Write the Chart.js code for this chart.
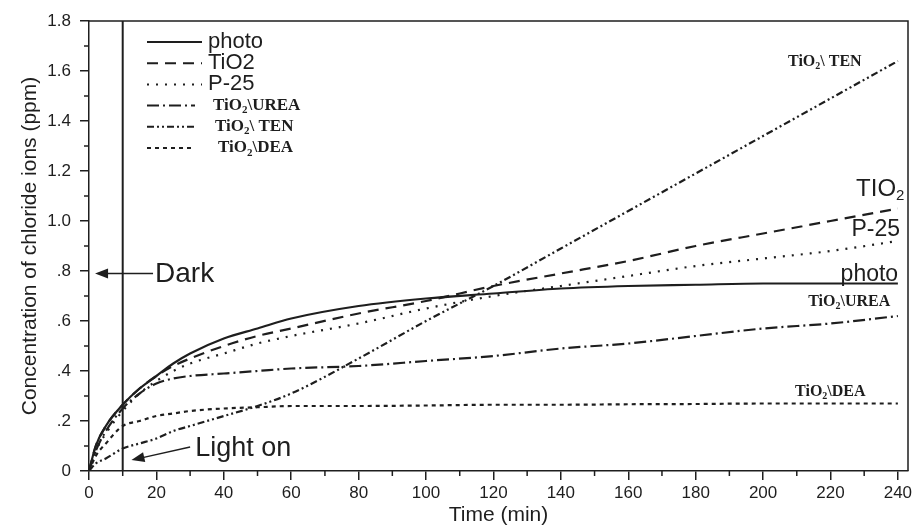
<!DOCTYPE html>
<html>
<head>
<meta charset="utf-8">
<script src="https://cdn.jsdelivr.net/npm/chart.js@4.4.1/dist/chart.umd.min.js"></script>
<style>
  html, body { margin: 0; padding: 0; background: #fff; }
</style>
</head>
<body>
<canvas id="chloride" width="918" height="529"></canvas>
<script>
// sampling times (min) and readings (ppm)
const timeMin  = [0, 2, 5, 10, 15, 20, 25, 30, 40, 50, 60, 80, 100, 120, 140, 160, 180, 200, 220, 240];
const photoPpm = [0, 0.10, 0.18, 0.265, 0.33, 0.38, 0.43, 0.47, 0.53, 0.57, 0.61, 0.66, 0.69, 0.71, 0.73, 0.74, 0.745, 0.75, 0.75, 0.75];
const tio2Ppm  = [0, 0.10, 0.18, 0.265, 0.33, 0.38, 0.42, 0.45, 0.50, 0.54, 0.57, 0.63, 0.68, 0.74, 0.79, 0.84, 0.90, 0.95, 1.00, 1.05];
const p25Ppm   = [0, 0.08, 0.15, 0.24, 0.31, 0.36, 0.40, 0.43, 0.47, 0.51, 0.54, 0.59, 0.65, 0.70, 0.74, 0.78, 0.82, 0.85, 0.88, 0.92];
const ureaPpm  = [0, 0.08, 0.16, 0.25, 0.31, 0.35, 0.37, 0.38, 0.39, 0.40, 0.41, 0.42, 0.44, 0.46, 0.49, 0.51, 0.54, 0.57, 0.59, 0.62];
const tenPpm   = [0, 0.03, 0.05, 0.09, 0.11, 0.13, 0.16, 0.18, 0.22, 0.26, 0.31, 0.45, 0.60, 0.74, 0.89, 1.04, 1.19, 1.34, 1.49, 1.64];
const deaPpm   = [0, 0.06, 0.11, 0.18, 0.20, 0.22, 0.23, 0.24, 0.25, 0.255, 0.26, 0.26, 0.262, 0.265, 0.265, 0.267, 0.268, 0.27, 0.27, 0.27];

const xTickValues = [0, 20, 40, 60, 80, 100, 120, 140, 160, 180, 200, 220, 240];
const xMinorTicks = [10, 30, 50, 70, 90, 110, 130, 150, 170, 190, 210, 230];
const yTickValues = [0, 0.2, 0.4, 0.6, 0.8, 1.0, 1.2, 1.4, 1.6, 1.8];
const yMinorTicks = [0.1, 0.3, 0.5, 0.7, 0.9, 1.1, 1.3, 1.5, 1.7];

const INK = '#1e1e1e';
const SANS = "'Liberation Sans', Arial, sans-serif";
const SERIF = "'Liberation Serif', 'Times New Roman', serif";

const series = [
    { label: 'photo',     values: photoPpm, dash: [] },
    { label: 'TiO2',      values: tio2Ppm,  dash: [11, 7] },
    { label: 'P-25',      values: p25Ppm,   dash: [2, 7] },
    { label: 'TiO2\\UREA', values: ureaPpm, dash: [12, 4, 2, 4] },
    { label: 'TiO2\\ TEN', values: tenPpm,  dash: [7, 3, 2, 3, 2, 3] },
    { label: 'TiO2\\DEA',  values: deaPpm,  dash: [4, 4] }
];

/**
 * Draws text where some pieces are subscripts, e.g. TiO2.
 * parts: array of [text, isSub]
 */
function drawParts(ctx, parts, x, y, size, family, weight) {
    ctx.textBaseline = 'middle';
    ctx.textAlign = 'left';
    let cx = x;
    parts.forEach(([txt, sub]) => {
        const s = sub ? Math.round(size * 0.62) : size;
        ctx.font = `${weight || 'normal'} ${s}px ${family}`;
        ctx.fillText(txt, cx, sub ? y + size * 0.28 : y);
        cx += ctx.measureText(txt).width;
    });
}

function arrow(ctx, x1, y1, x2, y2) {
    // line from (x1,y1) to tip at (x2,y2)
    const ang = Math.atan2(y2 - y1, x2 - x1);
    ctx.beginPath();
    ctx.moveTo(x1, y1);
    ctx.lineTo(x2 - 8 * Math.cos(ang), y2 - 8 * Math.sin(ang));
    ctx.stroke();
    ctx.beginPath();
    ctx.moveTo(x2, y2);
    ctx.lineTo(x2 - 13 * Math.cos(ang) + 5 * Math.sin(ang), y2 - 13 * Math.sin(ang) - 5 * Math.cos(ang));
    ctx.lineTo(x2 - 13 * Math.cos(ang) - 5 * Math.sin(ang), y2 - 13 * Math.sin(ang) + 5 * Math.cos(ang));
    ctx.closePath();
    ctx.fill();
}

const overlay = {
    id: 'overlay',
    afterDraw(chart) {
        const { ctx, chartArea: a, scales: { x, y } } = chart;
        ctx.save();
        ctx.strokeStyle = INK;
        ctx.fillStyle = INK;

        // top and right frame
        ctx.lineWidth = 1.5;
        ctx.beginPath();
        ctx.moveTo(a.left, a.top);
        ctx.lineTo(a.right, a.top);
        ctx.lineTo(a.right, a.bottom);
        ctx.stroke();

        // minor ticks
        ctx.beginPath();
        xMinorTicks.forEach(t => {
            const px = x.getPixelForValue(t);
            ctx.moveTo(px, a.bottom);
            ctx.lineTo(px, a.bottom + 5);
        });
        yMinorTicks.forEach(v => {
            const py = y.getPixelForValue(v);
            ctx.moveTo(a.left, py);
            ctx.lineTo(a.left - 5, py);
        });
        ctx.stroke();

        // light switched on at t = 10
        ctx.lineWidth = 2;
        ctx.beginPath();
        ctx.moveTo(x.getPixelForValue(10), a.top);
        ctx.lineTo(x.getPixelForValue(10), a.bottom);
        ctx.stroke();

        // Dark / Light on annotations
        ctx.lineWidth = 1.3;
        arrow(ctx, x.getPixelForValue(19), y.getPixelForValue(0.79), x.getPixelForValue(1.8), y.getPixelForValue(0.79));
        drawParts(ctx, [['Dark', false]], x.getPixelForValue(19.6), y.getPixelForValue(0.788), 28, SANS);
        arrow(ctx, x.getPixelForValue(30), y.getPixelForValue(0.096), x.getPixelForValue(12.6), y.getPixelForValue(0.044));
        drawParts(ctx, [['Light on', false]], x.getPixelForValue(31.5), y.getPixelForValue(0.088), 27, SANS);

        // curve labels on the right
        drawParts(ctx, [['TiO', false], ['2', true], ['\\ TEN', false]], x.getPixelForValue(207.4), y.getPixelForValue(1.636), 16, SERIF, 'bold');
        drawParts(ctx, [['TIO', false], ['2', true]], x.getPixelForValue(227.6), y.getPixelForValue(1.128), 24, SANS);
        drawParts(ctx, [['P-25', false]], x.getPixelForValue(226.2), y.getPixelForValue(0.964), 23, SANS);
        drawParts(ctx, [['photo', false]], x.getPixelForValue(223.0), y.getPixelForValue(0.784), 23, SANS);
        drawParts(ctx, [['TiO', false], ['2', true], ['\\UREA', false]], x.getPixelForValue(213.4), y.getPixelForValue(0.676), 16, SERIF, 'bold');
        drawParts(ctx, [['TiO', false], ['2', true], ['\\DEA', false]], x.getPixelForValue(209.5), y.getPixelForValue(0.316), 16, SERIF, 'bold');

        // legend box (top-left, inside plot)
        const legendRows = [
            { parts: [['photo', false]], font: SANS, size: 22, weight: 'normal', len: 55, gap: 6 },
            { parts: [['TiO2', false]], font: SANS, size: 22, weight: 'normal', len: 55, gap: 6 },
            { parts: [['P-25', false]], font: SANS, size: 22, weight: 'normal', len: 55, gap: 6 },
            { parts: [['TiO', false], ['2', true], ['\\UREA', false]], font: SERIF, size: 17, weight: 'bold', len: 48, gap: 18 },
            { parts: [['TiO', false], ['2', true], ['\\ TEN', false]], font: SERIF, size: 17, weight: 'bold', len: 48, gap: 20 },
            { parts: [['TiO', false], ['2', true], ['\\DEA', false]], font: SERIF, size: 17, weight: 'bold', len: 48, gap: 23 }
        ];
        const lx = a.left + 58;
        legendRows.forEach((row, i) => {
            const ly = a.top + 21 + i * 21.2;
            ctx.lineWidth = 2;
            ctx.setLineDash(series[i].dash);
            ctx.beginPath();
            ctx.moveTo(lx, ly);
            ctx.lineTo(lx + row.len, ly);
            ctx.stroke();
            ctx.setLineDash([]);
            drawParts(ctx, row.parts, lx + row.len + row.gap, ly, row.size, row.font, row.weight);
        });

        ctx.restore();
    }
};

new Chart(document.getElementById('chloride'), {
    type: 'line',
    data: {
        datasets: series.map(s => ({
            label: s.label,
            data: timeMin.map((t, i) => ({ x: t, y: s.values[i] })),
            borderColor: INK,
            borderWidth: 2.2,
            borderDash: s.dash,
            pointRadius: 0,
            fill: false,
            cubicInterpolationMode: 'monotone'
        }))
    },
    options: {
        responsive: false,
        animation: false,
        layout: { padding: { top: 21, right: 10, left: 0, bottom: 0 } },
        plugins: { legend: { display: false }, tooltip: { enabled: false } },
        scales: {
            x: {
                type: 'linear',
                min: 0,
                max: 243,
                afterBuildTicks: scale => { scale.ticks = xTickValues.map(v => ({ value: v })); },
                afterFit: scale => { scale.height = 58; },
                ticks: { color: INK, font: { family: SANS, size: 17 }, padding: 3, maxRotation: 0, autoSkip: false },
                grid: { drawOnChartArea: false, drawTicks: true, tickLength: 9, color: INK, lineWidth: 1.5 },
                border: { display: true, color: INK, width: 1.5 },
                title: { display: true, text: 'Time (min)', color: INK, font: { family: SANS, size: 21 }, padding: { top: 0, bottom: 1 } }
            },
            y: {
                type: 'linear',
                min: 0,
                max: 1.8,
                afterBuildTicks: scale => { scale.ticks = yTickValues.map(v => ({ value: v })); },
                afterFit: scale => { scale.width = 89; },
                ticks: {
                    color: INK,
                    font: { family: SANS, size: 17 },
                    padding: 9,
                    autoSkip: false,
                    callback: v => (v === 0 ? '0' : (v < 1 ? v.toFixed(1).slice(1) : v.toFixed(1)))
                },
                grid: { drawOnChartArea: false, drawTicks: true, tickLength: 9, color: INK, lineWidth: 1.5 },
                border: { display: true, color: INK, width: 1.5 },
                title: { display: true, text: 'Concentration of chloride ions (ppm)', color: INK, font: { family: SANS, size: 21 }, padding: { top: 18, bottom: 0 } }
            }
        }
    },
    plugins: [overlay]
});
</script>
</body>
</html>
